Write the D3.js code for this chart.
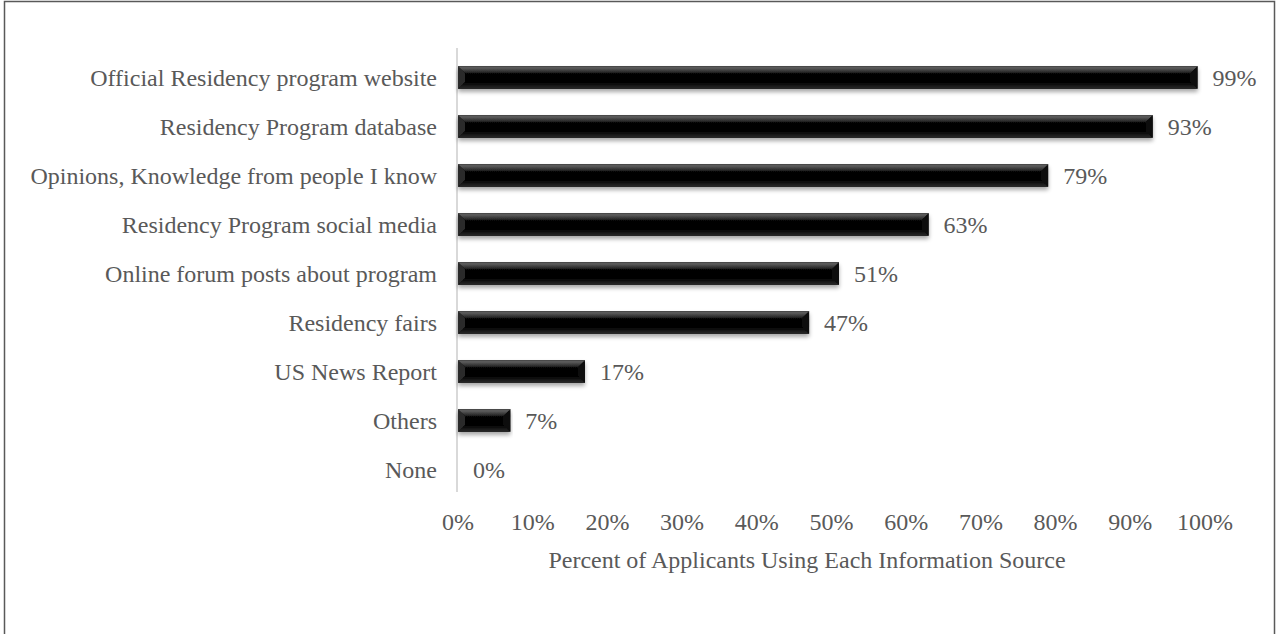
<!DOCTYPE html>
<html><head><meta charset="utf-8">
<script src="https://cdn.jsdelivr.net/npm/d3@7"></script>
<style>
html,body{margin:0;padding:0;background:#fff;}
text{font-family:"Liberation Serif","Times New Roman",serif;fill:#595959;}
</style></head>
<body>
<svg id="chart" width="1276" height="634"></svg>
<script>
const categories = ["Official Residency program website","Residency Program database","Opinions, Knowledge from people I know","Residency Program social media","Online forum posts about program","Residency fairs","US News Report","Others","None"];
const values = [99,93,79,63,51,47,17,7,0];
const tickValues = [0,10,20,30,40,50,60,70,80,90,100];
const axisTitle = "Percent of Applicants Using Each Information Source";

const svg = d3.select("#chart");
const W = 1276, H = 634;
svg.append("rect").attr("x",4.5).attr("y",1.5).attr("width",W-6).attr("height",H+10)
  .attr("fill","#fff").attr("stroke","#595959").attr("stroke-width",1.5);

const defs = svg.append("defs");
const f = defs.append("filter").attr("id","shadow").attr("x","-5%").attr("y","-30%").attr("width","110%").attr("height","180%");
f.append("feGaussianBlur").attr("in","SourceAlpha").attr("stdDeviation",2.2);
f.append("feOffset").attr("dx",0).attr("dy",3).attr("result","ob");
f.append("feComponentTransfer").append("feFuncA").attr("type","linear").attr("slope",0.35);
const m = f.append("feMerge"); m.append("feMergeNode"); m.append("feMergeNode").attr("in","SourceGraphic");

const gTop = defs.append("linearGradient").attr("id","gtop").attr("x1",0).attr("y1",0).attr("x2",0).attr("y2",1);
gTop.append("stop").attr("offset","0%").attr("stop-color","#707070");
gTop.append("stop").attr("offset","100%").attr("stop-color","#1a1a1a");
const gBot = defs.append("linearGradient").attr("id","gbot").attr("x1",0).attr("y1",0).attr("x2",0).attr("y2",1);
gBot.append("stop").attr("offset","0%").attr("stop-color","#000");
gBot.append("stop").attr("offset","100%").attr("stop-color","#2a2a2a");

const x = d3.scaleLinear().domain([0,100]).range([458,1205]);
const y = d3.scaleBand().domain(categories).range([53,494]).paddingInner(0.54).paddingOuter(0.27);

svg.append("line").attr("x1",457).attr("x2",457).attr("y1",48).attr("y2",492)
  .attr("stroke","#d9d9d9").attr("stroke-width",2);

const data = categories.map((c,i)=>({c, v: values[i]}));
const bh = y.bandwidth();
const bev = 7;
const bars = svg.append("g").selectAll("g").data(data.filter(d=>d.v>0)).join("g")
  .attr("filter","url(#shadow)");
bars.append("rect").attr("x",x(0)).attr("y",d=>y(d.c)).attr("width",d=>x(d.v)-x(0)).attr("height",bh).attr("fill","#000");
bars.append("polygon").attr("points",d=>{const x0=x(0),x1=x(d.v),y0=y(d.c);
  return [[x0,y0],[x1,y0],[x1-bev,y0+bev],[x0+bev,y0+bev]].map(p=>p.join(",")).join(" ");}).attr("fill","url(#gtop)");
bars.append("polygon").attr("points",d=>{const x0=x(0),x1=x(d.v),y1=y(d.c)+bh;
  return [[x0,y1],[x1,y1],[x1-bev,y1-bev],[x0+bev,y1-bev]].map(p=>p.join(",")).join(" ");}).attr("fill","url(#gbot)");
bars.append("polygon").attr("points",d=>{const x0=x(0),y0=y(d.c),y1=y0+bh;
  return [[x0,y0],[x0+bev,y0+bev],[x0+bev,y1-bev],[x0,y1]].map(p=>p.join(",")).join(" ");}).attr("fill","#2b2b2b");
bars.append("polygon").attr("points",d=>{const x1=x(d.v),y0=y(d.c),y1=y0+bh;
  return [[x1,y0],[x1-bev,y0+bev],[x1-bev,y1-bev],[x1,y1]].map(p=>p.join(",")).join(" ");}).attr("fill","#111");
bars.append("line").attr("x1",d=>x(0)).attr("x2",d=>x(d.v)).attr("y1",d=>y(d.c)+0.5).attr("y2",d=>y(d.c)+0.5)
  .attr("stroke","#444").attr("stroke-width",1);

svg.append("g").selectAll("text").data(data).join("text")
  .attr("x",d=>x(d.v)+15).attr("y",d=>y(d.c)+bh/2).attr("dy","0.35em")
  .attr("font-size",24).text(d=>d.v+"%");

svg.append("g").selectAll("text").data(data).join("text")
  .attr("x",437).attr("y",d=>y(d.c)+bh/2).attr("dy","0.35em").attr("text-anchor","end")
  .attr("font-size",24).text(d=>d.c);

svg.append("g").selectAll("text").data(tickValues).join("text")
  .attr("x",d=>x(d)).attr("y",522).attr("dy","0.35em").attr("text-anchor","middle")
  .attr("font-size",24).text(d=>d+"%");

svg.append("text").attr("x",807).attr("y",560).attr("dy","0.35em").attr("text-anchor","middle")
  .attr("font-size",24).text(axisTitle);
</script>
</body></html>
